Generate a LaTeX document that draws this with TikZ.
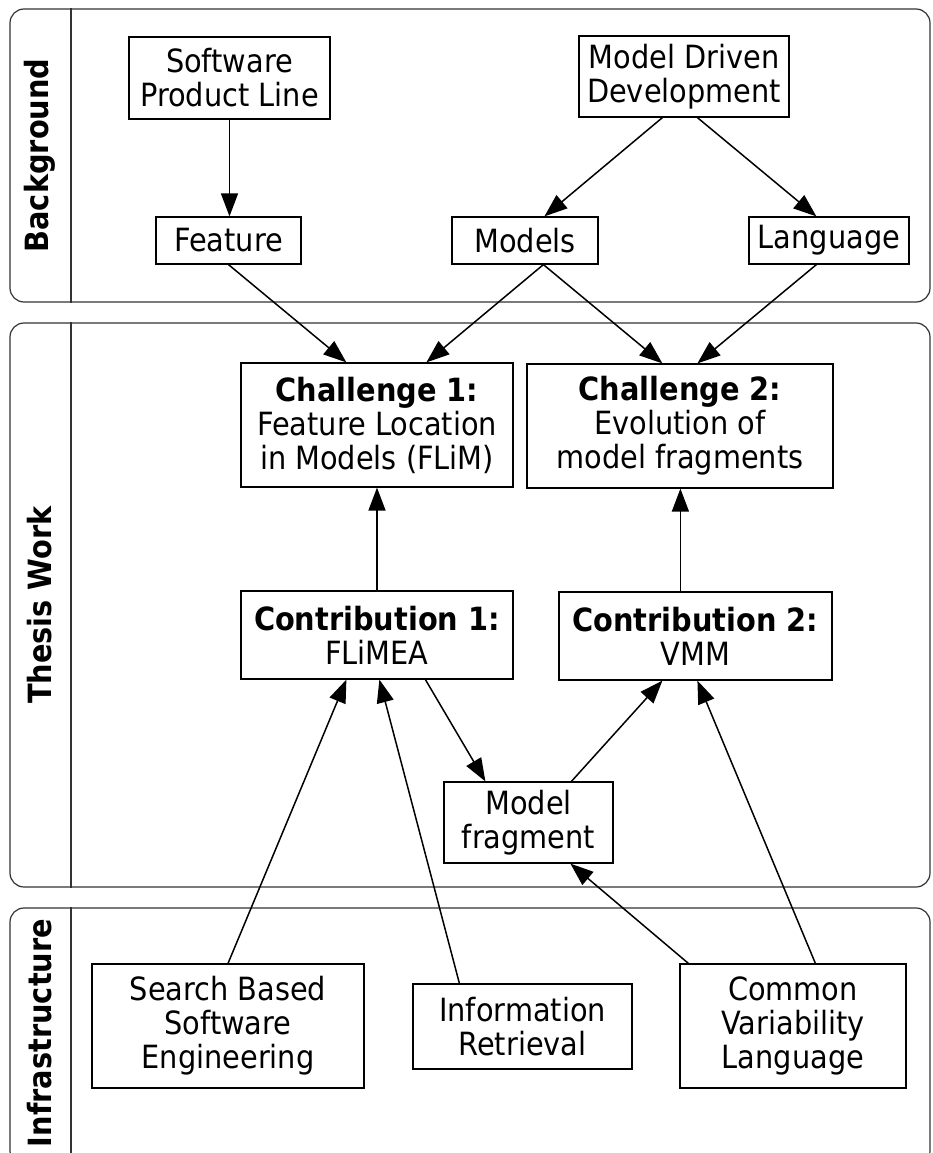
\documentclass[tikz,border=0pt]{standalone}
\usepackage{fontspec}
\setmainfont{DejaVu Sans}[FakeStretch=0.9]
\usetikzlibrary{arrows.meta,calc}
\begin{document}
\begin{tikzpicture}[x=1pt,y=-1pt,
  box/.style={draw=black,line width=1.2pt,align=center,inner sep=0pt,
    font=\fontsize{32}{34}\selectfont},
  lane/.style={draw=black!80,line width=1.2pt,rounded corners=14pt,inner sep=0pt},
  lanelabel/.style={rotate=90,font=\bfseries\fontsize{32}{34}\selectfont,inner sep=0pt},
  arr/.style={line width=1.5pt,-{Triangle[length=23pt,width=17pt]}}]
\useasboundingbox (0,0) rectangle (932,1153);
\clip (0,0) rectangle (932,1153);

% swimlanes
\node[lane,minimum width=920pt,minimum height=293pt] (bgLane) at (470,155.5) {};
\node[lane,minimum width=920pt,minimum height=564pt] (thLane) at (470,605) {};
\node[lane,minimum width=920pt,minimum height=257pt] (inLane) at (470,1036.5) {};
\draw[draw=black!80,line width=1.2pt] (bgLane.north west -| 71,0) -- (bgLane.south west -| 71,0);
\draw[draw=black!80,line width=1.2pt] (thLane.north west -| 71,0) -- (thLane.south west -| 71,0);
\draw[draw=black!80,line width=1.2pt] (inLane.north west -| 71,0) -- (inLane.south west -| 71,0);
\node[lanelabel] (bgLabel) at (40,155.5) {Background};
\node[lanelabel] (thLabel) at (40,605) {Thesis Work};
\node[lanelabel] (inLabel) at (40,1033) {Infrastructure};

% background concepts
\node[box,minimum width=201pt,minimum height=82pt] (spl) at (229.5,78) {Software\\Product Line};
\node[box,minimum width=145pt,minimum height=47pt] (feat) at (228.5,240.5) {Feature};
\node[box,minimum width=210pt,minimum height=81pt] (mdd) at (684,76.5) {Model Driven\\Development};
\node[box,minimum width=146pt,minimum height=47pt] (models) at (525,240.5) {Models};
\node[box,minimum width=160pt,minimum height=47pt] (lang) at (829,240.5) {Language};

% thesis work
\node[box,minimum width=272pt,minimum height=124pt] (ch1) at (377,425)
  {\textbf{Challenge 1:}\\Feature Location\\in Models (FLiM)};
\node[box,minimum width=306pt,minimum height=124pt] (ch2) at (680,426)
  {\textbf{Challenge 2:}\\Evolution of\\model fragments};
\node[box,minimum width=272pt,minimum height=88pt] (co1) at (377,635)
  {\textbf{Contribution 1:}\\FLiMEA};
\node[box,minimum width=273pt,minimum height=88pt] (co2) at (695.5,636)
  {\textbf{Contribution 2:}\\VMM};
\node[box,minimum width=169pt,minimum height=81pt] (mf) at (528.5,822.5) {Model\\fragment};

% infrastructure
\node[box,minimum width=272pt,minimum height=124pt] (sbse) at (228,1026)
  {Search Based\\Software\\Engineering};
\node[box,minimum width=219pt,minimum height=85pt] (ir) at (522.5,1026.5)
  {Information\\Retrieval};
\node[box,minimum width=226pt,minimum height=124pt] (cvl) at (793,1026)
  {Common\\Variability\\Language};

% connectors
\draw[arr] (spl.south) -- (spl.south |- feat.north);
\draw[arr] ($(mdd.south west)+(84,0)$) -- ($(models.north west)+(93,0)$);
\draw[arr] ($(mdd.south west)+(119,0)$) -- ($(lang.north west)+(68,0)$);
\draw[arr] (feat.south) -- ($(ch1.north west)+(106,0)$);
\draw[arr] ($(models.south west)+(92,0)$) -- ($(ch1.north west)+(186,0)$);
\draw[arr] ($(models.south west)+(92,0)$) -- ($(ch2.north west)+(136,0)$);
\draw[arr] ($(lang.south west)+(68,0)$) -- ($(ch2.north west)+(171,0)$);
\draw[arr] (co1.north) -- (ch1.south);
\draw[arr] ($(co2.north west)+(122,0)$) -- ($(ch2.south west)+(154,0)$);
\draw[arr] ($(co1.south west)+(185,0)$) -- ($(mf.north west)+(42,0)$);
\draw[arr] ($(mf.north west)+(128,0)$) -- ($(co2.south west)+(104,0)$);
\draw[arr] (sbse.north) -- ($(co1.south west)+(106,0)$);
\draw[arr] ($(ir.north west)+(47,0)$) -- ($(co1.south west)+(139,0)$);
\draw[arr] ($(cvl.north west)+(9,0)$) -- ($(mf.south west)+(127,0)$);
\draw[arr] ($(cvl.north west)+(136,0)$) -- ($(co2.south west)+(139,0)$);
\end{tikzpicture}
\end{document}
